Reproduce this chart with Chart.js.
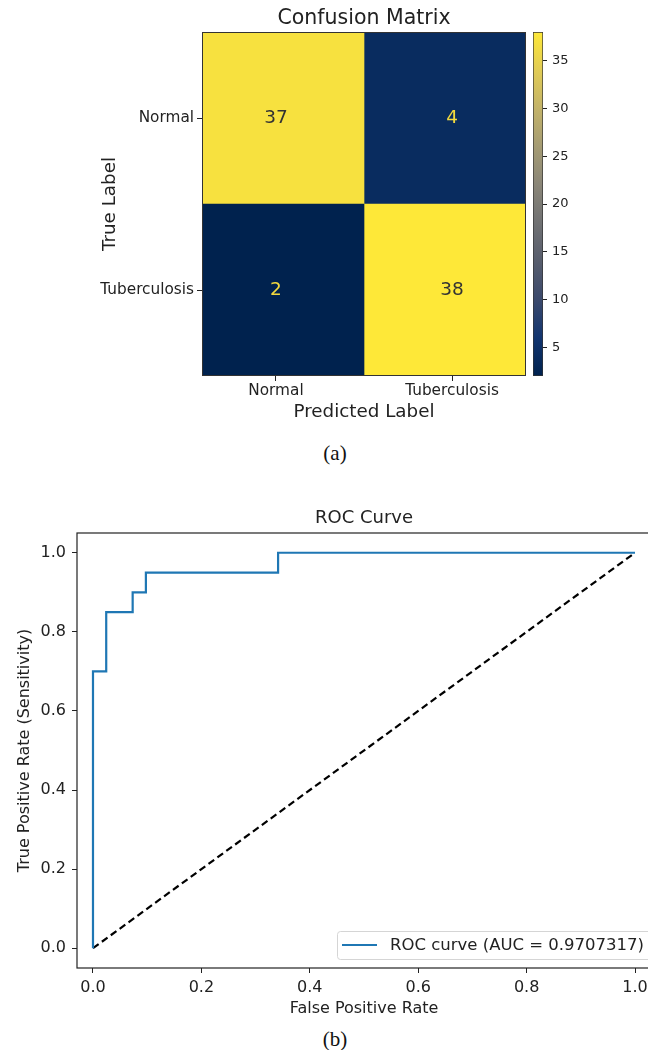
<!DOCTYPE html>
<html lang="en">
<head>
  <meta charset="UTF-8" />
  <title>Confusion Matrix and ROC Curve</title>
  <script src="https://cdn.jsdelivr.net/npm/chart.js"></script>
  <style>
    body {
      margin: 0;
      width: 648px;
      height: 1050px;
      overflow: hidden;
      background: #fff;
      position: relative;
      font-family: 'DejaVu Sans', sans-serif;
    }
    .box { position: absolute; }
    .cap {
      position: absolute;
      left: 0;
      width: 670px;
      text-align: center;
      font-family: 'Liberation Serif', serif;
      font-size: 21px;
      line-height: 22px;
      color: #111;
    }
  </style>
</head>
<body>
  <div class="box" style="left:0; top:0; width:536px; height:426px;"><canvas id="matriz"></canvas></div>
  <div class="box" style="left:500px; top:0; width:100px; height:440px;"><canvas id="barraCor"></canvas></div>
  <div class="cap" style="top:442px;">(a)</div>
  <div class="box" style="left:0; top:490px; width:660px; height:530px;"><canvas id="roc"></canvas></div>
  <div class="cap" style="top:1028px;">(b)</div>

  <script>
    // ---- dados ----
    const predictedLabels = ["Normal", "Tuberculosis"];
    const trueLabels = ["Normal", "Tuberculosis"];
    const rowNormal = [37, 4];
    const rowTuberculosis = [2, 38];
    const colorbarTicks = [5, 10, 15, 20, 25, 30, 35];

    const fprPoints = [0, 0, 0.0244, 0.0244, 0.0732, 0.0732, 0.0976, 0.0976, 0.3415, 0.3415, 1];
    const tprPoints = [0, 0.7, 0.7, 0.85, 0.85, 0.9, 0.9, 0.95, 0.95, 1.0, 1.0];
    const chanceX = [0, 1];
    const chanceY = [0, 1];
    const aucValue = "0.9707317";
    const rocTicks = [0, 0.2, 0.4, 0.6, 0.8, 1.0];

    const matrix = [rowNormal, rowTuberculosis];
    const allCounts = matrix.flat();
    const vMin = Math.min(...allCounts);
    const vMax = Math.max(...allCounts);

    const FONT = "'DejaVu Sans', sans-serif";
    const INK = "#222";

    // cividis aproximado
    const cividis = ["#00224e", "#123570", "#3b496c", "#575d6d", "#707173",
                     "#8a8678", "#a59c74", "#c3b369", "#e1cc55", "#fee838"];
    function hexRgb(h) {
      return [1, 3, 5].map(i => parseInt(h.slice(i, i + 2), 16));
    }
    function corCividis(t) {
      t = Math.max(0, Math.min(1, t));
      const pos = t * (cividis.length - 1);
      const i = Math.min(Math.floor(pos), cividis.length - 2);
      const f = pos - i;
      const a = hexRgb(cividis[i]), b = hexRgb(cividis[i + 1]);
      const c = a.map((v, k) => Math.round(v + (b[k] - v) * f));
      return `rgb(${c[0]}, ${c[1]}, ${c[2]})`;
    }
    const norm = v => (v - vMin) / (vMax - vMin);

    // ---- matriz de confusão ----
    const textoCelulas = {
      id: "textoCelulas",
      afterDatasetsDraw(chart) {
        const { ctx, chartArea: a, scales: { x, y } } = chart;
        ctx.save();
        ctx.font = `18.5px ${FONT}`;
        ctx.textAlign = "center";
        ctx.textBaseline = "middle";
        matrix.forEach((row, r) => row.forEach((v, c) => {
          ctx.fillStyle = norm(v) > 0.5 ? "#333" : "#f2d93e";
          ctx.fillText(String(v), x.getPixelForValue(c), y.getPixelForValue(r));
        }));
        ctx.strokeStyle = "#333";
        ctx.lineWidth = 1;
        ctx.strokeRect(a.left + 0.5, a.top + 0.5, a.width - 1, a.height - 1);
        ctx.restore();
      }
    };

    new Chart(document.getElementById("matriz"), {
      type: "bar",
      data: {
        labels: trueLabels,
        datasets: predictedLabels.map((p, j) => ({
          label: p,
          data: trueLabels.map(() => [j - 0.5, j + 0.5]),
          backgroundColor: matrix.map(row => corCividis(norm(row[j]))),
          borderWidth: 0,
          barPercentage: 1,
          categoryPercentage: 1,
          grouped: false
        }))
      },
      options: {
        indexAxis: "y",
        responsive: true,
        maintainAspectRatio: false,
        animation: false,
        layout: { padding: { left: 95, right: 10, top: 0, bottom: 0 } },
        plugins: {
          legend: { display: false },
          tooltip: { enabled: false },
          title: {
            display: true,
            text: "Confusion Matrix",
            fullSize: false,
            color: INK,
            font: { family: FONT, size: 20.5, weight: "normal" },
            padding: { top: 6, bottom: 1.4 }
          }
        },
        scales: {
          x: {
            type: "linear",
            position: "bottom",
            min: -0.42,
            max: 1.42,
            afterBuildTicks: s => { s.ticks = predictedLabels.map((_, i) => ({ value: i })); },
            afterFit: s => { s.height = 50; },
            ticks: {
              callback: v => predictedLabels[v],
              color: INK,
              font: { family: FONT, size: 15.3 },
              padding: 1,
              maxRotation: 0
            },
            grid: { drawOnChartArea: false, tickLength: 5, color: INK },
            border: { display: false },
            title: {
              display: true,
              text: "Predicted Label",
              color: INK,
              font: { family: FONT, size: 18.3 },
              padding: { top: 0, bottom: 3 }
            }
          },
          y: {
            afterFit: s => { s.width = 107; },
            ticks: {
              color: INK,
              font: { family: FONT, size: 15.3 },
              padding: 3
            },
            grid: { drawOnChartArea: false, offset: false, tickLength: 5, color: INK },
            border: { display: false },
            title: {
              display: true,
              text: "True Label",
              color: INK,
              font: { family: FONT, size: 18.3 },
              padding: { top: 4, bottom: 0 }
            }
          }
        }
      },
      plugins: [textoCelulas]
    });

    // ---- barra de cores ----
    new Chart(document.getElementById("barraCor"), {
      type: "bar",
      data: {
        labels: [""],
        datasets: [{
          data: [[vMin, vMax]],
          backgroundColor: c => {
            const a = c.chart.chartArea;
            if (!a) return cividis[0];
            const g = c.chart.ctx.createLinearGradient(0, a.bottom, 0, a.top);
            cividis.forEach((col, i) => g.addColorStop(i / (cividis.length - 1), col));
            return g;
          },
          borderColor: "#333",
          borderWidth: 1,
          borderSkipped: false,
          barPercentage: 1,
          categoryPercentage: 1
        }]
      },
      options: {
        responsive: true,
        maintainAspectRatio: false,
        animation: false,
        layout: { padding: { left: 33, right: 0, top: 32, bottom: 64 } },
        plugins: { legend: { display: false }, tooltip: { enabled: false } },
        scales: {
          x: { display: false },
          y: {
            position: "right",
            min: vMin,
            max: vMax,
            afterBuildTicks: s => { s.ticks = colorbarTicks.map(v => ({ value: v })); },
            afterFit: s => { s.width = 57; },
            ticks: { color: INK, font: { family: FONT, size: 13 }, padding: 5 },
            grid: { drawOnChartArea: false, tickLength: 4, color: INK },
            border: { display: false }
          }
        }
      }
    });

    // ---- curva ROC ----
    const molduraLegenda = {
      id: "molduraLegenda",
      afterDatasetsDraw(chart) {
        const { ctx, chartArea: a } = chart;
        ctx.save();
        // moldura dos eixos
        ctx.strokeStyle = INK;
        ctx.lineWidth = 1.2;
        ctx.strokeRect(a.left, a.top, a.width, a.height);

        // legenda
        const ds = chart.data.datasets[0];
        ctx.font = `16.5px ${FONT}`;
        const boxW = 320;
        const boxH = 28;
        const bx = a.right - 314;
        const by = a.bottom - 9 - boxH;
        ctx.fillStyle = "rgba(255,255,255,0.8)";
        ctx.strokeStyle = "#d5d5d5";
        ctx.lineWidth = 1;
        ctx.beginPath();
        ctx.roundRect(bx + 0.5, by + 0.5, boxW, boxH, 3);
        ctx.fill();
        ctx.stroke();
        ctx.strokeStyle = ds.borderColor;
        ctx.lineWidth = 2.2;
        ctx.beginPath();
        ctx.moveTo(bx + 5, by + boxH / 2);
        ctx.lineTo(bx + 40, by + boxH / 2);
        ctx.stroke();
        ctx.fillStyle = INK;
        ctx.textBaseline = "middle";
        ctx.fillText(ds.label, bx + 53, by + boxH / 2 + 1);
        ctx.restore();
      }
    };

    new Chart(document.getElementById("roc"), {
      type: "scatter",
      data: {
        datasets: [
          {
            label: `ROC curve (AUC = ${aucValue})`,
            data: fprPoints.map((x, i) => ({ x, y: tprPoints[i] })),
            showLine: true,
            borderColor: "#1f77b4",
            borderWidth: 2.2,
            pointRadius: 0,
            tension: 0
          },
          {
            label: "chance",
            data: chanceX.map((x, i) => ({ x, y: chanceY[i] })),
            showLine: true,
            borderColor: "#000",
            borderWidth: 2.2,
            borderDash: [7, 4],
            pointRadius: 0
          }
        ]
      },
      options: {
        responsive: true,
        maintainAspectRatio: false,
        animation: false,
        layout: { padding: { left: 0, right: 9, top: 0, bottom: 0 } },
        plugins: {
          legend: { display: false },
          tooltip: { enabled: false },
          title: {
            display: true,
            text: "ROC Curve",
            fullSize: false,
            color: INK,
            font: { family: FONT, size: 18, weight: "normal" },
            padding: { top: 18, bottom: 3.4 }
          }
        },
        scales: {
          x: {
            type: "linear",
            min: -0.0295,
            max: 1.0295,
            afterBuildTicks: s => { s.ticks = rocTicks.map(v => ({ value: v })); },
            afterFit: s => { s.height = 52; },
            ticks: {
              callback: v => v.toFixed(1),
              color: INK,
              font: { family: FONT, size: 16 },
              padding: 5,
              maxRotation: 0
            },
            grid: { drawOnChartArea: false, tickLength: 5, color: INK },
            border: { display: false },
            title: {
              display: true,
              text: "False Positive Rate",
              color: INK,
              font: { family: FONT, size: 16 },
              padding: { top: 0, bottom: 1.5 }
            }
          },
          y: {
            type: "linear",
            min: -0.05,
            max: 1.05,
            afterBuildTicks: s => { s.ticks = rocTicks.map(v => ({ value: v })); },
            afterFit: s => { s.width = 77; },
            ticks: {
              callback: v => v.toFixed(1),
              color: INK,
              font: { family: FONT, size: 16 },
              padding: 6
            },
            grid: { drawOnChartArea: false, tickLength: 5, color: INK },
            border: { display: false },
            title: {
              display: true,
              text: "True Positive Rate (Sensitivity)",
              color: INK,
              font: { family: FONT, size: 16 },
              padding: { top: 15.4, bottom: 0 }
            }
          }
        }
      },
      plugins: [molduraLegenda]
    });
  </script>
</body>
</html>
